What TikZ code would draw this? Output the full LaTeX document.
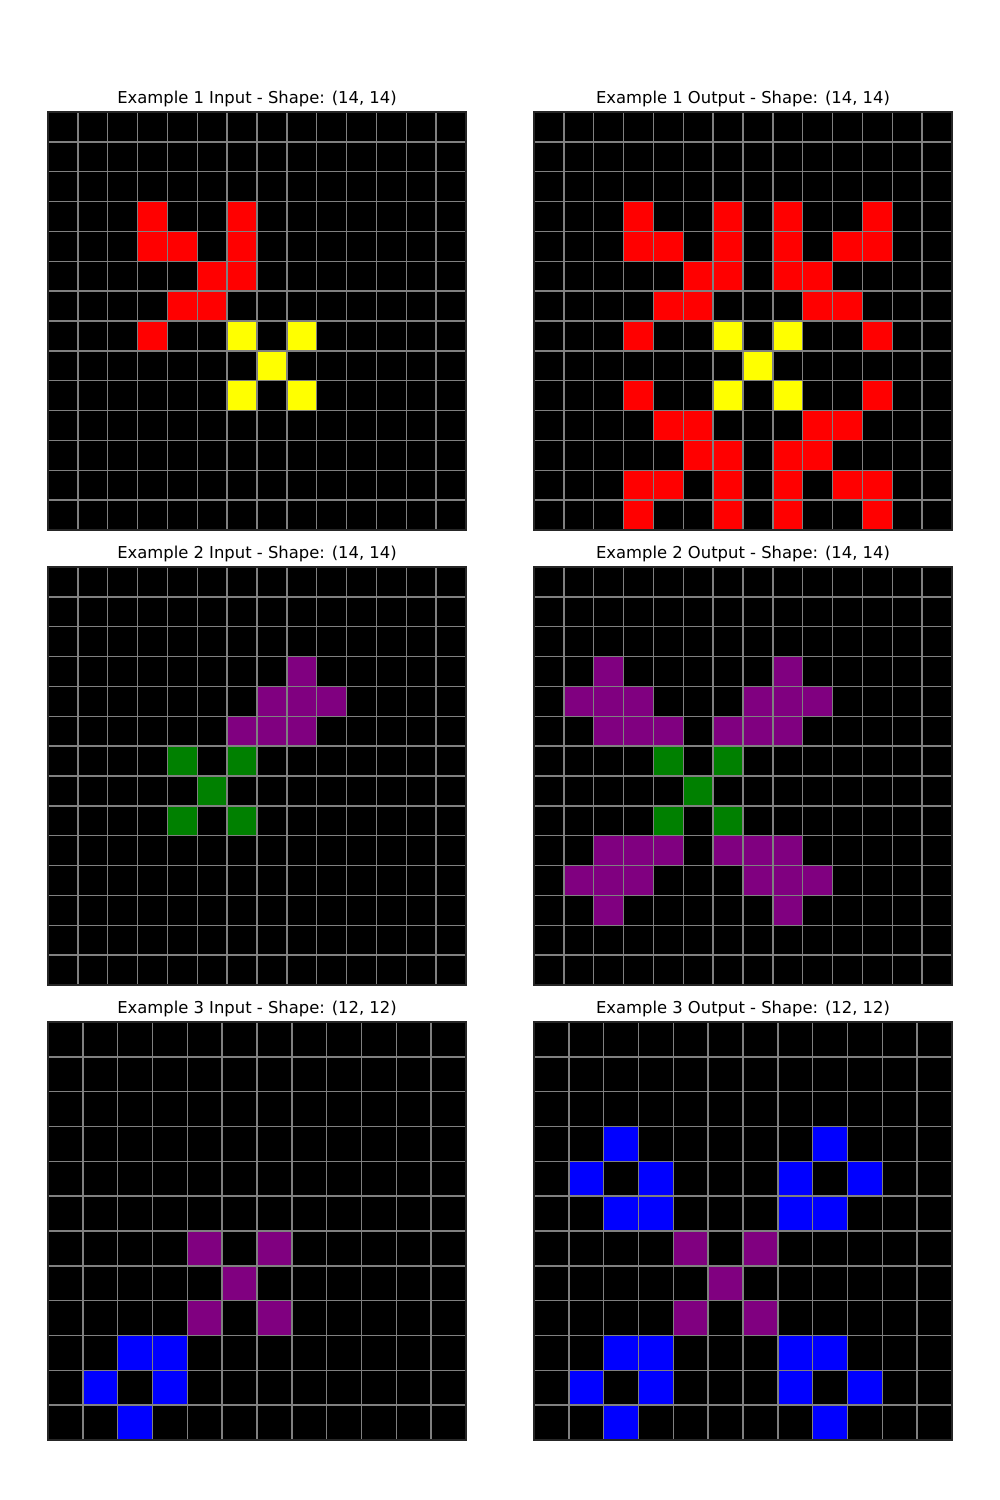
\documentclass[tikz,border=0pt]{standalone}
\usepackage{fontspec}
\setmainfont{DejaVu Sans}
\definecolor{ared}{HTML}{FF0000}
\definecolor{ayellow}{HTML}{FFFF00}
\definecolor{apurple}{HTML}{800080}
\definecolor{agreen}{HTML}{008000}
\definecolor{ablue}{HTML}{0000FF}
\definecolor{agrid}{HTML}{808080}
\tikzset{
  paneltitle/.style={anchor=base,inner sep=0pt,font=\fontsize{11.8}{14}\selectfont},
  gridline/.style={draw=agrid,line width=1pt},
  frameline/.style={draw=black!85,line width=0.8pt},
}
% #1 name, #2 x0, #3 y0, #4 n, #5 title, #6 cells r/c/colour
\newcommand\gridpanel[6]{%
  \pgfmathsetmacro\cellsz{418/#4}
  \fill[black] (#2,#3) rectangle ++(418,418);
  \foreach \rr/\cc/\kk in {#6}{\fill[\kk] ({#2+\cc*\cellsz},{#3+\rr*\cellsz}) rectangle ++(\cellsz,\cellsz);}
  \foreach \ii in {0,...,#4}{%
    \draw[gridline] ({#2+\ii*\cellsz},#3) -- ++(0,418);
    \draw[gridline] (#2,{#3+\ii*\cellsz}) -- ++(418,0);
  }
  \draw[frameline] (#2,#3) rectangle ++(418,418);
  \node[paneltitle] (#1) at ({#2+209},{#3-8.5}) {#5};
}
\begin{document}
\begin{tikzpicture}[x=0.72pt,y=-0.72pt]
\useasboundingbox (0,0) rectangle (1000,1500);
\gridpanel{t1i}{48}{112}{14}{Example 1 Input - Shape: (14, 14)}{3/3/ared,3/6/ared,4/3/ared,4/4/ared,4/6/ared,5/5/ared,5/6/ared,6/4/ared,6/5/ared,7/3/ared,7/6/ayellow,7/8/ayellow,8/7/ayellow,9/6/ayellow,9/8/ayellow}
\gridpanel{t1o}{534}{112}{14}{Example 1 Output - Shape: (14, 14)}{3/3/ared,3/6/ared,3/8/ared,3/11/ared,4/3/ared,4/4/ared,4/6/ared,4/8/ared,4/10/ared,4/11/ared,5/5/ared,5/6/ared,5/8/ared,5/9/ared,6/4/ared,6/5/ared,6/9/ared,6/10/ared,7/3/ared,7/11/ared,9/3/ared,9/11/ared,10/4/ared,10/5/ared,10/9/ared,10/10/ared,11/5/ared,11/6/ared,11/8/ared,11/9/ared,12/3/ared,12/4/ared,12/6/ared,12/8/ared,12/10/ared,12/11/ared,13/3/ared,13/6/ared,13/8/ared,13/11/ared,7/6/ayellow,7/8/ayellow,8/7/ayellow,9/6/ayellow,9/8/ayellow}
\gridpanel{t2i}{48}{567}{14}{Example 2 Input - Shape: (14, 14)}{3/8/apurple,4/7/apurple,4/8/apurple,4/9/apurple,5/6/apurple,5/7/apurple,5/8/apurple,6/4/agreen,6/6/agreen,7/5/agreen,8/4/agreen,8/6/agreen}
\gridpanel{t2o}{534}{567}{14}{Example 2 Output - Shape: (14, 14)}{3/2/apurple,3/8/apurple,4/1/apurple,4/2/apurple,4/3/apurple,4/7/apurple,4/8/apurple,4/9/apurple,5/2/apurple,5/3/apurple,5/4/apurple,5/6/apurple,5/7/apurple,5/8/apurple,9/2/apurple,9/3/apurple,9/4/apurple,9/6/apurple,9/7/apurple,9/8/apurple,10/1/apurple,10/2/apurple,10/3/apurple,10/7/apurple,10/8/apurple,10/9/apurple,11/2/apurple,11/8/apurple,6/4/agreen,6/6/agreen,7/5/agreen,8/4/agreen,8/6/agreen}
\gridpanel{t3i}{48}{1022}{12}{Example 3 Input - Shape: (12, 12)}{6/4/apurple,6/6/apurple,7/5/apurple,8/4/apurple,8/6/apurple,9/2/ablue,9/3/ablue,10/1/ablue,10/3/ablue,11/2/ablue}
\gridpanel{t3o}{534}{1022}{12}{Example 3 Output - Shape: (12, 12)}{3/2/ablue,3/8/ablue,4/1/ablue,4/3/ablue,4/7/ablue,4/9/ablue,5/2/ablue,5/3/ablue,5/7/ablue,5/8/ablue,9/2/ablue,9/3/ablue,9/7/ablue,9/8/ablue,10/1/ablue,10/3/ablue,10/7/ablue,10/9/ablue,11/2/ablue,11/8/ablue,6/4/apurple,6/6/apurple,7/5/apurple,8/4/apurple,8/6/apurple}
\end{tikzpicture}
\end{document}
